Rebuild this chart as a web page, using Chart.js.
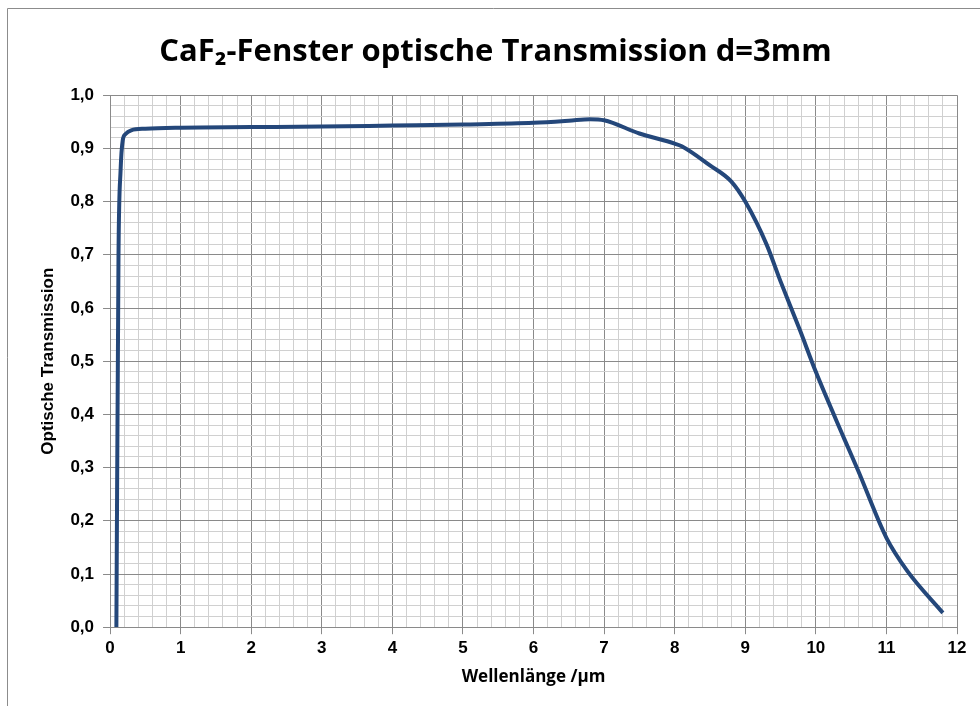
<!DOCTYPE html>
<html><head><meta charset="utf-8">
<script src="https://cdn.jsdelivr.net/npm/chart.js@4"></script>
<style>html,body{margin:0;padding:0;background:#fff;}#wrap{width:980px;height:706px;position:relative;}</style>
</head><body><div id="wrap"><canvas id="c" width="980" height="706"></canvas></div>
<script>
const wavelength = [0.09, 0.12, 0.15, 0.18, 0.22, 0.3, 0.5, 1, 2, 3, 4, 5, 6, 6.5, 6.8, 7, 7.5, 8, 8.1, 8.5, 8.8, 9, 9.3, 9.5, 9.77, 10, 10.4, 10.6, 11, 11.3, 11.8];
const transmission = [0, 0.7, 0.86, 0.915, 0.927, 0.934, 0.937, 0.939, 0.940, 0.941, 0.943, 0.945, 0.948, 0.952, 0.955, 0.953, 0.928, 0.909, 0.904, 0.868, 0.838, 0.80, 0.72, 0.65, 0.56, 0.48, 0.355, 0.294, 0.168, 0.105, 0.027];
const titleText = 'CaF₂-Fenster optische Transmission d=3mm';
const xTitle = 'Wellenlänge /µm';
const yTitle = 'Optische Transmission';

const pts = wavelength.map((x, i) => ({x: x, y: transmission[i]}));
const isMajor = (v, step) => Math.abs(v / step - Math.round(v / step)) < 1e-6;
const framePlugin = {
  id: 'frame',
  beforeDraw(chart) {
    const ctx = chart.ctx;
    ctx.save();
    ctx.strokeStyle = '#8c8c8c';
    ctx.lineWidth = 1;
    ctx.beginPath();
    ctx.moveTo(7.5, 706); ctx.lineTo(7.5, 8.5); ctx.lineTo(980, 8.5);
    ctx.stroke();
    ctx.restore();
  }
};
new Chart(document.getElementById('c'), {
  type: 'line',
  data: { datasets: [{ data: pts, borderColor: '#24477a', borderWidth: 4, pointRadius: 0, fill: false, cubicInterpolationMode: 'monotone' }] },
  plugins: [framePlugin],
  options: {
    responsive: false, animation: false,
    layout: { padding: { left: 34, right: 23, top: 14, bottom: 15 } },
    plugins: {
      legend: { display: false }, tooltip: { enabled: false },
      title: { display: true, text: titleText, color: '#000', font: { family: 'Open Sans', size: 31, weight: 'bold' }, padding: { top: 20, bottom: 24 } }
    },
    scales: {
      x: {
        type: 'linear', min: 0, max: 12,
        ticks: { stepSize: 0.2, autoSkip: false, maxRotation: 0, color: '#000', font: { family: 'Liberation Sans', size: 17, weight: 'bold' }, padding: 4,
          callback: (v) => isMajor(v, 1) ? String(Math.round(v)) : '' },
        grid: { color: (c) => isMajor(c.tick.value, 1) ? '#8a8a8a' : '#d0d0d0', tickColor: (c) => isMajor(c.tick.value, 1) ? '#8a8a8a' : 'rgba(0,0,0,0)', tickLength: 7, drawTicks: true },
        border: { color: '#8a8a8a' },
        title: { display: true, text: xTitle, color: '#000', font: { family: 'Open Sans', size: 17, weight: 'bold' }, padding: { top: 4 } }
      },
      y: {
        type: 'linear', min: 0, max: 1,
        ticks: { stepSize: 0.02, autoSkip: false, color: '#000', font: { family: 'Liberation Sans', size: 17, weight: 'bold' }, padding: 9,
          callback: (v) => isMajor(v, 0.1) ? v.toFixed(1).replace('.', ',') : '' },
        grid: { color: (c) => isMajor(c.tick.value, 0.1) ? '#8a8a8a' : '#d0d0d0', tickColor: (c) => isMajor(c.tick.value, 0.1) ? '#8a8a8a' : 'rgba(0,0,0,0)', tickLength: 7 },
        border: { color: '#8a8a8a' },
        title: { display: true, text: yTitle, color: '#000', font: { family: 'Liberation Sans', size: 17, weight: 'bold' }, padding: { top: 4, bottom: 3 } }
      }
    }
  }
});
</script></body></html>
